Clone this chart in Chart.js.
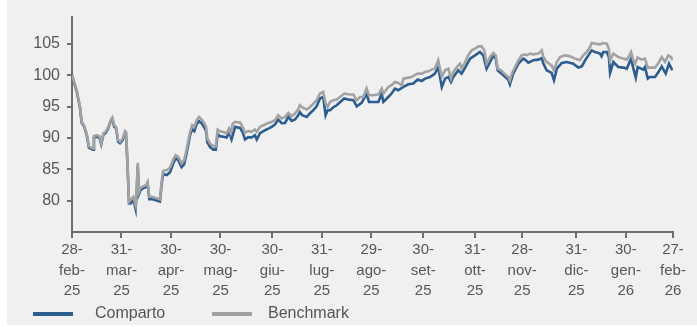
<!DOCTYPE html>
<html>
<head>
<meta charset="utf-8">
<script src="https://cdn.jsdelivr.net/npm/chart.js@4.4.1/dist/chart.umd.min.js"></script>
<style>
  body { margin: 0; background: #ffffff; font-family: "Liberation Sans", Arial, sans-serif; }
  #bg { position: absolute; left: 7px; top: 0; width: 690px; height: 325px; background: #f0f0f0; }
  #wrap { position: absolute; left: 0; top: 0; width: 697px; height: 327px; }
  .leg { position: absolute; top: 304px; font-size: 16px; color: #555555; line-height: 18px; }
  .sw { position: absolute; top: 312px; width: 40px; height: 4px; }
</style>
</head>
<body>
<div id="bg"></div>
<div id="wrap"><canvas id="chart" width="697" height="327"></canvas></div>
<div id="legend"></div>
<script>
// Month-end positions on the x axis (trading day index) and their labels
const tickPos = [0, 21, 42, 63, 85, 106, 127, 149, 171, 191, 214, 235, 255];
const tickLabels = [
    ['28-', 'feb-', '25'], ['31-', 'mar-', '25'], ['30-', 'apr-', '25'],
    ['30-', 'mag-', '25'], ['30-', 'giu-', '25'], ['31-', 'lug-', '25'],
    ['29-', 'ago-', '25'], ['30-', 'set-', '25'], ['31-', 'ott-', '25'],
    ['28-', 'nov-', '25'], ['31-', 'dic-', '25'], ['30-', 'gen-', '26'],
    ['27-', 'feb-', '26']
];
const yTicks = [80, 85, 90, 95, 100, 105];
const seriesNames = ['Comparto', 'Benchmark'];

// Benchmark (grey line)
const benchX = [0, 2.0, 3.4, 4.1, 5.1, 6.2, 7.2, 7.9, 9.0, 9.3, 10.5, 11.6, 12.4, 13.3, 14.4, 15.4, 16.4, 17.1, 17.9, 18.7,
    19.6, 20.4, 21.5, 22.5, 22.9, 23.5, 24.2, 25.0, 26.0, 27.0, 27.5, 27.9, 28.4, 29.1, 30.3, 31.4, 32.1, 32.8, 33.8, 35.9,
    37.3, 38.1, 38.7, 40.2, 41.6, 43.0, 44.0, 45.1, 46.5, 47.6, 48.7, 50.1, 51.0, 51.9, 52.9, 53.9, 55.0, 56.1, 56.9, 57.4,
    58.6, 60.0, 61.0, 61.8, 62.8, 64.2, 65.6, 66.6, 67.3, 68.2, 69.2, 71.3, 72.4, 73.4, 74.8, 76.2, 77.6, 78.4, 79.8, 81.9,
    83.3, 84.7, 86.1, 87.5, 89.0, 90.4, 91.8, 93.2, 94.6, 96.0, 96.7, 97.7, 99.6, 101.0, 102.4, 103.8, 105.2, 106.6, 107.6, 108.5,
    109.5, 110.9, 112.3, 113.7, 115.5, 117.2, 119.4, 120.8, 122.2, 123.6, 125.0, 126.0, 127.2, 127.8, 130.0, 131.4, 132.1, 134.2, 135.6, 137.0,
    138.4, 139.9, 140.6, 142.7, 144.1, 145.2, 146.7, 148.4, 149.8, 151.2, 152.6, 154.0, 155.4, 156.1, 156.9, 158.3, 159.7, 160.8, 161.8, 163.9,
    164.6, 165.3, 166.8, 168.1, 169.6, 171.0, 172.4, 173.8, 174.9, 175.9, 177.4, 178.8, 179.8, 180.6, 182.0, 183.4, 185.1, 185.8, 186.6, 188.0,
    189.4, 190.8, 192.2, 192.9, 194.3, 195.7, 197.9, 199.3, 200.0, 201.4, 203.5, 204.5, 205.7, 207.1, 209.2, 211.3, 213.4, 215.5, 216.9, 218.4,
    219.8, 220.5, 221.9, 224.0, 225.4, 226.9, 227.8, 228.3, 229.7, 231.8, 233.9, 235.4, 236.3, 237.2, 238.2, 238.9, 240.0, 241.7, 243.1, 244.3,
    246.0, 247.4, 249.1, 250.2, 251.6, 253.0, 254.2, 254.7];
const benchY = [100, 97.61, 94.95, 92.56, 92.04, 90.72, 88.69, 88.49, 88.33, 90.29, 90.45, 90.29, 89.22, 90.72, 91.08, 91.77, 92.83, 93.26, 92.04, 91.77,
    89.65, 89.38, 89.92, 91.08, 90.97, 86.46, 79.82, 80.21, 80.62, 79.30, 82.21, 86.03, 81.42, 82.05, 82.32, 82.48, 83.01, 80.62, 80.62, 80.37,
    80.21, 83.28, 84.76, 84.87, 85.30, 86.58, 87.26, 86.99, 85.94, 86.46, 88.33, 90.97, 92.04, 91.77, 92.83, 93.36, 92.95, 92.40, 91.77, 89.92,
    89.12, 88.69, 88.69, 91.35, 91.08, 90.97, 90.72, 91.51, 90.81, 92.31, 92.56, 92.47, 91.77, 90.81, 91.13, 90.97, 91.35, 90.97, 91.77, 92.15,
    92.40, 92.56, 92.83, 93.63, 93.11, 93.36, 94.00, 93.47, 93.90, 94.59, 95.22, 94.86, 94.54, 94.95, 95.49, 96.02, 97.09, 97.34, 95.49, 94.95,
    95.75, 96.02, 96.13, 96.54, 97.09, 96.97, 96.93, 96.02, 96.54, 96.54, 97.88, 96.82, 96.82, 96.82, 96.97, 97.88, 97.09, 98.14, 98.41, 98.93,
    98.77, 98.41, 99.47, 99.63, 99.73, 100.00, 100.27, 100.27, 100.53, 100.64, 100.91, 101.07, 102.39, 101.07, 99.73, 100.80, 101.07, 99.47, 100.53, 101.59,
    101.86, 101.07, 102.12, 103.18, 103.98, 104.25, 104.62, 104.62, 103.98, 101.86, 102.91, 103.55, 103.18, 101.07, 100.80, 100.27, 99.73, 99.20, 100.27, 101.32,
    102.39, 103.18, 103.34, 103.18, 103.46, 103.34, 103.46, 103.98, 102.91, 102.12, 101.59, 100.80, 102.12, 102.91, 103.18, 103.03, 102.66, 102.39, 103.18, 103.71,
    104.51, 105.14, 105.05, 104.94, 105.14, 105.05, 104.25, 102.39, 103.46, 102.91, 102.66, 102.50, 103.03, 103.71, 102.39, 101.86, 102.82, 102.50, 102.66, 101.23,
    101.23, 101.23, 102.12, 102.91, 102.12, 103.18, 102.91, 102.39];

// Comparto (blue line)
const compX = [0, 2.0, 3.4, 4.1, 5.1, 6.2, 7.2, 7.9, 9.0, 9.3, 10.5, 11.6, 12.4, 13.3, 14.4, 15.4, 16.4, 17.1, 17.9, 18.7,
    19.6, 20.4, 21.5, 22.5, 22.9, 23.5, 24.2, 25.0, 26.0, 27.0, 27.5, 27.9, 28.4, 29.1, 30.3, 31.4, 32.1, 32.8, 33.8, 35.9,
    37.3, 38.1, 38.7, 40.2, 41.6, 43.0, 44.0, 45.1, 46.5, 47.6, 48.7, 50.1, 51.0, 51.9, 52.9, 53.9, 55.0, 56.1, 56.9, 57.4,
    58.6, 60.0, 61.0, 61.8, 62.8, 64.2, 65.6, 66.6, 67.7, 69.2, 71.3, 72.4, 73.4, 74.8, 76.2, 77.6, 78.4, 79.8, 81.9, 83.3,
    84.7, 86.1, 87.5, 89.0, 90.4, 91.8, 93.2, 94.6, 96.0, 96.7, 97.7, 99.6, 101.0, 102.4, 103.8, 105.2, 106.6, 107.6, 108.5, 109.5,
    110.9, 112.3, 113.7, 115.5, 117.2, 119.4, 120.8, 122.9, 125.0, 126.0, 127.2, 127.8, 130.0, 131.4, 132.1, 134.2, 135.6, 137.0, 138.4, 140.6,
    142.7, 144.8, 146.7, 148.4, 149.8, 151.9, 154.0, 155.4, 156.9, 158.3, 159.7, 160.8, 161.8, 163.9, 165.3, 166.8, 168.9, 171.0, 173.1, 174.5,
    175.9, 177.4, 178.8, 179.8, 180.6, 183.0, 185.1, 185.8, 187.2, 189.4, 191.5, 192.2, 193.6, 195.7, 197.9, 199.3, 200.0, 201.4, 203.5, 204.5,
    205.7, 207.8, 209.9, 212.7, 214.8, 216.3, 217.7, 219.1, 220.5, 221.9, 224.0, 224.7, 225.4, 226.9, 227.8, 228.3, 229.7, 231.8, 233.9, 235.4,
    237.2, 238.2, 239.2, 240.0, 242.4, 243.1, 244.3, 245.2, 247.4, 249.1, 250.2, 251.9, 253.3, 254.7];
const compY = [100, 97.45, 94.82, 92.44, 91.88, 90.53, 88.46, 88.30, 88.14, 90.05, 90.21, 90.05, 89.01, 90.53, 90.84, 91.56, 92.68, 93.07, 91.80, 91.56,
    89.41, 89.17, 89.65, 90.84, 90.76, 86.15, 79.54, 79.57, 80.25, 78.66, 81.85, 85.51, 81.05, 81.69, 82.01, 82.17, 82.64, 80.25, 80.25, 80.02,
    79.86, 82.80, 84.24, 84.08, 84.55, 85.99, 86.78, 86.46, 85.35, 85.83, 87.74, 90.45, 91.40, 91.08, 92.20, 92.68, 92.36, 91.72, 91.08, 89.33,
    88.54, 88.14, 88.14, 90.61, 90.29, 90.21, 90.08, 90.97, 89.76, 91.77, 91.61, 90.92, 89.76, 90.13, 90.08, 90.45, 89.76, 90.76, 91.24, 91.48,
    91.77, 92.12, 92.95, 92.36, 92.40, 93.36, 92.72, 92.95, 93.63, 94.11, 93.63, 93.36, 93.95, 94.43, 95.06, 96.29, 96.54, 93.63, 94.43, 94.43,
    94.90, 95.22, 95.70, 96.29, 96.13, 96.02, 95.06, 95.59, 97.09, 95.75, 95.75, 95.75, 95.75, 97.09, 95.75, 96.54, 97.09, 97.88, 97.61, 98.14,
    98.57, 98.68, 99.32, 99.09, 99.47, 99.73, 100.27, 101.32, 98.14, 99.47, 99.73, 98.93, 99.73, 100.80, 100.27, 101.23, 102.66, 103.18, 103.71, 103.18,
    101.07, 102.12, 103.18, 102.66, 100.80, 100.00, 99.32, 98.57, 100.27, 101.86, 102.66, 102.50, 102.02, 102.39, 102.50, 102.75, 101.86, 100.80, 100.37, 99.20,
    101.07, 101.96, 102.12, 101.86, 101.23, 101.43, 102.39, 103.18, 103.98, 103.71, 103.46, 103.03, 103.71, 103.71, 102.91, 100.37, 102.12, 101.32, 101.23, 101.07,
    102.66, 101.07, 99.63, 101.32, 100.91, 101.32, 99.47, 99.73, 99.73, 100.68, 101.43, 100.27, 101.86, 100.80];

const compColor = '#2c5d8f';
const benchColor = '#a2a2a2';
const axisColor = '#6e6e6e';
const textColor = '#575757';

function toPoints(xs, ys) {
    return xs.map((x, i) => ({ x: x, y: ys[i] }));
}

const ctx = document.getElementById('chart').getContext('2d');
const chart = new Chart(ctx, {
    type: 'line',
    data: {
        datasets: [
            // benchmark first so it is drawn on top of the blue line
            { label: seriesNames[1], data: toPoints(benchX, benchY), borderColor: benchColor, borderWidth: 2.6, pointRadius: 0, tension: 0 },
            { label: seriesNames[0], data: toPoints(compX, compY), borderColor: compColor, borderWidth: 2.6, pointRadius: 0, tension: 0 }
        ]
    },
    options: {
        responsive: false,
        animation: false,
        layout: { padding: { top: 17, right: 24, bottom: 0, left: 0 } },
        plugins: { legend: { display: false }, tooltip: { enabled: false } },
        scales: {
            x: {
                type: 'linear',
                min: 0,
                max: 255,
                afterBuildTicks: axis => { axis.ticks = tickPos.map(v => ({ value: v })); },
                afterFit: axis => { axis.height = 95; },
                border: { display: true, color: axisColor, width: 2 },
                grid: { drawOnChartArea: false, drawTicks: true, tickLength: 6, color: axisColor, lineWidth: 2 },
                ticks: {
                    autoSkip: false,
                    maxRotation: 0,
                    padding: 2,
                    color: textColor,
                    font: { family: '"Liberation Sans", Arial, sans-serif', size: 15, lineHeight: 1.35 },
                    callback: (value, index) => tickLabels[index]
                }
            },
            y: {
                min: 75,
                max: 109.3,
                afterBuildTicks: axis => { axis.ticks = yTicks.map(v => ({ value: v })); },
                afterFit: axis => { axis.width = 72; },
                border: { display: true, color: axisColor, width: 2 },
                grid: { drawOnChartArea: false, drawTicks: true, tickLength: 5, color: axisColor, lineWidth: 2 },
                ticks: {
                    padding: 7,
                    color: textColor,
                    font: { family: '"Liberation Sans", Arial, sans-serif', size: 16 }
                }
            }
        }
    }
});

// Legend under the chart
const legendItems = [
    { name: seriesNames[0], color: compColor, boxLeft: 33, textLeft: 95 },
    { name: seriesNames[1], color: benchColor, boxLeft: 212, textLeft: 268 }
];
const legend = document.getElementById('legend');
legendItems.forEach(item => {
    const sw = document.createElement('div');
    sw.className = 'sw';
    sw.style.left = item.boxLeft + 'px';
    sw.style.background = item.color;
    legend.appendChild(sw);
    const t = document.createElement('div');
    t.className = 'leg';
    t.style.left = item.textLeft + 'px';
    t.textContent = item.name;
    legend.appendChild(t);
});
</script>
</body>
</html>
